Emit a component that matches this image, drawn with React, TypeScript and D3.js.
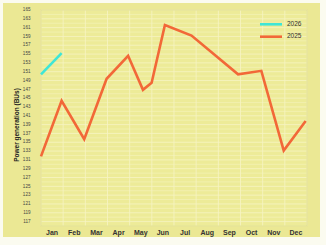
import React from "react";
import * as d3 from "d3";

const months = ["Jan","Feb","Mar","Apr","May","Jun","Jul","Aug","Sep","Oct","Nov","Dec"];
const yTicks = [165,163,161,159,157,155,153,151,149,147,145,143,141,139,137,135,133,131,129,127,125,123,121,119,117];

// x positions expressed as fractional month index (0 = start of Jan)
const s2025x = [0, 0.93, 1.95, 2.96, 3.93, 4.6, 4.99, 5.59, 6.79, 8.89, 9.94, 10.95, 11.94];
const s2025y = [131.8, 144.4, 135.7, 149.4, 154.6, 146.9, 148.5, 161.6, 159.2, 150.4, 151.2, 133.1, 139.8];
const s2026x = [0, 0.93];
const s2026y = [150.4, 155.2];

const seriesNames = ["2026", "2025"];
const seriesColors = ["#3fe6d6", "#f26838"];

export default function App() {
  const W = 326, H = 245;
  const left = 41, right = 307, top = 10, bottom = 226;
  const x = d3.scaleLinear().domain([0, 12]).range([left, right]);
  const y = d3.scaleLinear().domain([116, 165]).range([bottom, top]);
  const line = d3.line<[number, number]>().x(d => x(d[0])).y(d => y(d[1]));
  const d2025 = s2025x.map((v, i) => [v, s2025y[i]] as [number, number]);
  const d2026 = s2026x.map((v, i) => [v, s2026y[i]] as [number, number]);
  const minor = d3.range(116, 166, 1);
  const vlines = d3.range(0, 13, 1);

  return (
    <svg width={W} height={H} style={{ position: "absolute", left: 0, top: 0, fontFamily: "Liberation Sans, Arial, sans-serif" }}>
      <rect x={0} y={0} width={W} height={H} fill="#fbfbf0" />
      <rect x={3} y={3} width={317} height={234} fill="#ebe894" />
      <rect x={left} y={top} width={right - left} height={bottom - top} fill="#edeb98" />
      {minor.map(v => (
        <line key={"h" + v} x1={left} x2={right} y1={y(v)} y2={y(v)} stroke="#f6f4c4" strokeWidth={v % 2 === 1 ? 0.8 : 0.5} />
      ))}
      {vlines.map(v => (
        <line key={"v" + v} x1={x(v)} x2={x(v)} y1={top} y2={bottom} stroke="#f6f4c4" strokeWidth={0.8} />
      ))}
      <rect x={left} y={top} width={right - left} height={bottom - top} fill="none" stroke="#dedb8a" strokeWidth={0.8} />
      {yTicks.map(t => (
        <text key={"t" + t} x={30.5} y={y(t)} fontSize={4.6} fill="#444" textAnchor="end" dominantBaseline="middle">{t}</text>
      ))}
      {months.map((m, i) => (
        <text key={m} x={x(i + 0.5)} y={235} fontSize={7} fontWeight="bold" fill="#333" textAnchor="middle">{m}</text>
      ))}
      <text transform={`translate(19,125) rotate(-90)`} fontSize={6.5} fontWeight="bold" fill="#222" textAnchor="middle">Power generation (BUs)</text>
      <path d={line(d2025) || ""} fill="none" stroke={seriesColors[1]} strokeWidth={2.6} strokeLinejoin="miter" />
      <path d={line(d2026) || ""} fill="none" stroke={seriesColors[0]} strokeWidth={2.6} />
      {seriesNames.map((n, i) => (
        <g key={n}>
          <line x1={260} x2={282} y1={24.3 + i * 12.4} y2={24.3 + i * 12.4} stroke={seriesColors[i]} strokeWidth={2.6} />
          <text x={287} y={24.3 + i * 12.4} fontSize={6.5} fill="#333" dominantBaseline="middle">{n}</text>
        </g>
      ))}
    </svg>
  );
}
